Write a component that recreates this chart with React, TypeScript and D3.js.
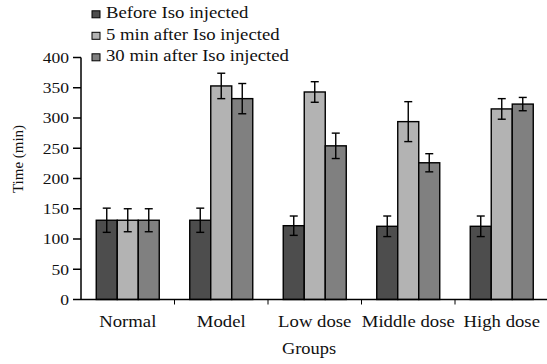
import React from "react";
import * as d3 from "d3";

const categories = ["Normal", "Model", "Low dose", "Middle dose", "High dose"];
const seriesNames = ["Before Iso injected", "5 min after Iso injected", "30 min after Iso injected"];
const seriesColors = ["#4d4d4d", "#b3b3b3", "#808080"];
const beforeVals = [131, 131, 122, 121, 121];
const min5Vals = [131, 353, 343, 294, 315];
const min30Vals = [131, 332, 254, 226, 323];
const beforeErr = [20, 20, 16, 17, 17];
const min5Err = [19, 21, 17, 33, 17];
const min30Err = [19, 25, 21, 15, 11];
const yTicks = [0, 50, 100, 150, 200, 250, 300, 350, 400];

const values = [beforeVals, min5Vals, min30Vals];
const errors = [beforeErr, min5Err, min30Err];

export default function App() {
  const W = 547, H = 364;
  const left = 81, right = 548.5, top = 57.5, bottom = 299.5;
  const font = "'Liberation Serif', 'Times New Roman', serif";
  const sx = 1.17;
  const x = d3.scaleBand<string>().domain(categories).range([left, right]).paddingInner(0).paddingOuter(0);
  const y = d3.scaleLinear().domain([0, 400]).range([bottom, top]);
  const inner = d3.scaleBand<number>().domain([0, 1, 2]).range([0, x.bandwidth()]).paddingOuter(0.726).paddingInner(0);
  const bw = inner.bandwidth();
  return (
    <svg width={W} height={H} style={{ position: "absolute", left: 0, top: 0 }} fontFamily={font} fill="#111">
      <rect width={W} height={H} fill="#fff" />
      {categories.map((c, i) =>
        values.map((vals, s) => {
          const x0 = (x(c) as number) + (inner(s) as number);
          const cx = x0 + bw / 2;
          const v = vals[i];
          const e = errors[s][i];
          return (
            <g key={c + s}>
              <rect x={x0} y={y(v)} width={bw} height={y(0) - y(v)} fill={seriesColors[s]} stroke="#000" strokeWidth={1.4} />
              <line x1={cx} x2={cx} y1={y(v + e)} y2={y(v - e)} stroke="#000" strokeWidth={1.4} />
              <line x1={cx - 4} x2={cx + 4} y1={y(v + e)} y2={y(v + e)} stroke="#000" strokeWidth={1.4} />
              <line x1={cx - 4} x2={cx + 4} y1={y(v - e)} y2={y(v - e)} stroke="#000" strokeWidth={1.4} />
            </g>
          );
        })
      )}
      {/* y axis */}
      <line x1={left} x2={left} y1={top} y2={bottom} stroke="#000" strokeWidth={1.5} />
      {yTicks.map((t) => (
        <g key={t}>
          <line x1={left - 8} x2={left} y1={y(t)} y2={y(t)} stroke="#000" strokeWidth={1.5} />
          <text transform={`translate(${left - 12},${y(t)}) scale(${sx},1)`} dy="0.35em" textAnchor="end" fontSize={15}>{t}</text>
        </g>
      ))}
      {/* x axis */}
      <line x1={left} x2={W} y1={bottom} y2={bottom} stroke="#000" strokeWidth={1.5} />
      {categories.slice(1).map((c) => (
        <line key={c} x1={x(c) as number} x2={x(c) as number} y1={bottom} y2={bottom + 5} stroke="#000" strokeWidth={1} />
      ))}
      {categories.map((c) => (
        <text key={c} transform={`translate(${(x(c) as number) + x.bandwidth() / 2},327) scale(${sx},1)`} textAnchor="middle" fontSize={16}>{c}</text>
      ))}
      <text transform={`translate(309,354) scale(1.15,1)`} textAnchor="middle" fontSize={16}>Groups</text>
      <text transform={`translate(23,159) rotate(-90)`} textAnchor="middle" fontSize={15}>Time (min)</text>
      {/* legend */}
      {seriesNames.map((n, i) => (
        <g key={n} transform={`translate(92,${18.3 + i * 21.5})`}>
          <rect x={0} y={-7.5} width={8} height={7} fill={seriesColors[i]} stroke="#000" strokeWidth={1} />
          <text transform={`translate(14,0) scale(${sx},1)`} fontSize={16}>{n}</text>
        </g>
      ))}
    </svg>
  );
}
